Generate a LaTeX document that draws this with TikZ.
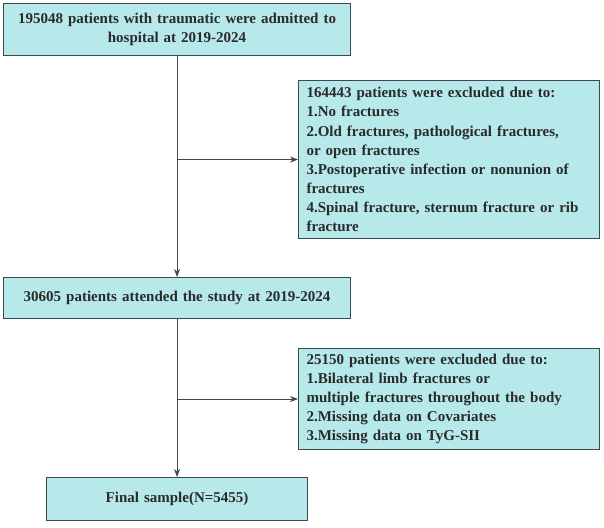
\documentclass[tikz,border=0pt]{standalone}
\usepackage{fontspec}
\setmainfont{Liberation Serif}[BoldFont={Liberation Serif Bold}]
\usetikzlibrary{arrows.meta}
\definecolor{boxfill}{HTML}{B7E9EA}
\definecolor{boxline}{HTML}{3C4A50}
\definecolor{txt}{HTML}{2A2A2A}
\tikzset{
  box/.style={draw=boxline, line width=1.1pt, fill=boxfill, inner xsep=8pt, inner ysep=0pt,
    font=\bfseries\fontsize{15}{19.1}\selectfont, text=txt, anchor=north west},
  arr/.style={draw=boxline, line width=0.9pt, -{Stealth[length=8pt,width=6pt]}},
  ln/.style={draw=boxline, line width=0.9pt}
}
\begin{document}
\begin{tikzpicture}[x=1pt,y=-1pt]
\useasboundingbox (0,0) rectangle (604,527);
\node[box, text width=331pt, minimum height=52pt, align=center] (b1) at (3,3)
  {195048 patients with traumatic were admitted to\\hospital at 2019-2024};
\node[box, text width=285pt, minimum height=158pt, align=left] (b2) at (298,80)
  {164443 patients were excluded due to:\\1.No fractures\\2.Old fractures, pathological fractures,\\or open fractures\\3.Postoperative infection or nonunion of\\fractures\\4.Spinal fracture, sternum fracture or rib\\fracture};
\node[box, text width=331pt, minimum height=41pt, align=center] (b3) at (3,277)
  {30605 patients attended the study at 2019-2024};
\node[box, text width=285pt, minimum height=101pt, align=left] (b4) at (298,348)
  {25150 patients were excluded due to:\\1.Bilateral limb fractures or\\multiple fractures throughout the body\\2.Missing data on Covariates\\3.Missing data on TyG-SII};
\node[box, text width=245pt, minimum height=43pt, align=center] (b5) at (46,477)
  {Final sample(N=5455)};
\coordinate (j1) at (b1.south |- b2.west);
\coordinate (j2) at (b3.south |- b4.west);
\draw[arr] (b1.south) -- (b3.north);
\draw[arr] (j1) -- (b2.west);
\draw[arr] (b3.south) -- (b5.north);
\draw[arr] (j2) -- (b4.west);
\end{tikzpicture}
\end{document}
